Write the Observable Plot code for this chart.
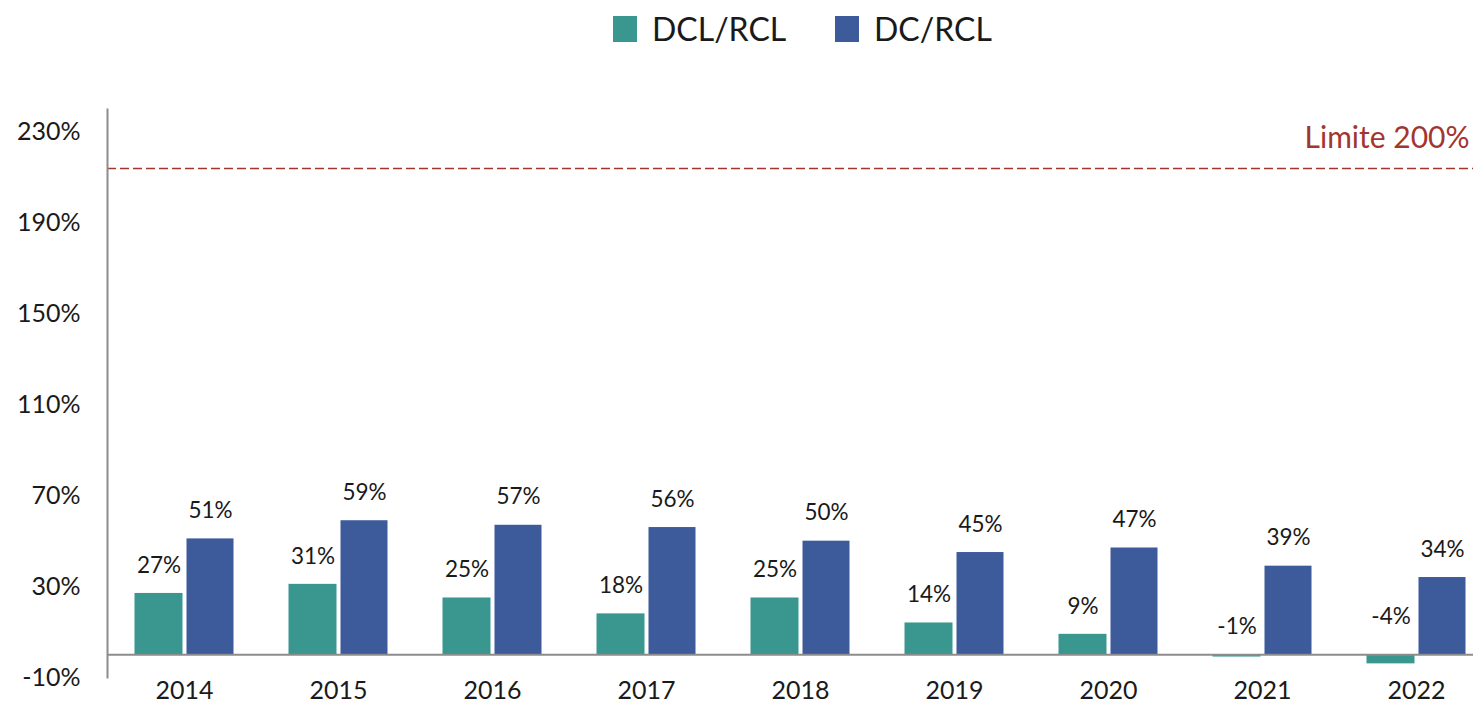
<!DOCTYPE html>
<html>
<head>
<meta charset="utf-8">
<script src="https://cdn.jsdelivr.net/npm/d3@7"></script>
<script src="https://cdn.jsdelivr.net/npm/@observablehq/plot@0.6"></script>
<style>
  html, body { margin: 0; padding: 0; background: #ffffff; }
  body { width: 1473px; height: 703px; overflow: hidden; font-family: Lato, "Open Sans", sans-serif; }
  #legend { position: relative; height: 70px; }
  .item { position: absolute; top: 12px; display: flex; align-items: center; font-size: 32px; color: #1a1a1a; line-height: 34px; }
  .sw { width: 24px; height: 26px; margin-right: 15px; }
</style>
</head>
<body>
<div id="legend"></div>
<div id="chart"></div>
<script>
const years = ["2014","2015","2016","2017","2018","2019","2020","2021","2022"];
const seriesNames = ["DCL/RCL", "DC/RCL"];
const dclRcl = [27, 31, 25, 18, 25, 14, 9, -1, -4];
const dcRcl  = [51, 59, 57, 56, 50, 45, 47, 39, 34];
const seriesColors = ["#3a978f", "#3d5a9b"];
const yTicks = [-10, 30, 70, 110, 150, 190, 230];
const limitValue = [214];
const limitLabel = "Limite 200%";

// legend
const legend = document.getElementById("legend");
const legendX = [613, 835];
seriesNames.forEach((name, i) => {
  const it = document.createElement("div");
  it.className = "item";
  it.style.left = legendX[i] + "px";
  it.innerHTML = `<span class="sw" style="background:${seriesColors[i]}"></span><span>${name}</span>`;
  legend.appendChild(it);
});

const teal = years.map((y, i) => ({year: y, value: dclRcl[i]}));
const blue = years.map((y, i) => ({year: y, value: dcRcl[i]}));
const fmt = d => d + "%";

const chart = Plot.plot({
  width: 1473,
  height: 633,
  marginLeft: 107,
  marginRight: -20,
  marginTop: 39,
  marginBottom: 26,
  style: { fontFamily: "Lato, 'Open Sans', sans-serif", background: "#ffffff", color: "#1a1a1a" },
  x: { domain: years, padding: 0, label: null },
  y: { domain: [-10, 240], label: null },
  marks: [
    Plot.ruleY(limitValue, { stroke: "#a3352f", strokeWidth: 1.5, strokeDasharray: "9,4" }),
    Plot.text(limitValue, { y: d => d, text: () => limitLabel, frameAnchor: "right", textAnchor: "end", dx: -24, dy: -30, fill: "#a3352f", fontSize: 30 }),
    Plot.barY(teal, { x: "year", y: "value", fill: seriesColors[0], insetLeft: 27.5, insetRight: 78.5 }),
    Plot.barY(blue, { x: "year", y: "value", fill: seriesColors[1], insetLeft: 79.5, insetRight: 27.5 }),
    Plot.text(teal.filter(d => d.value >= -2), { x: "year", y: d => Math.max(d.value, 0), text: d => fmt(d.value), dx: -25.5, dy: -28, fontSize: 22.5, fill: "#1a1a1a" }),
    Plot.text(teal.filter(d => d.value < -2), { x: "year", y: d => Math.max(d.value, 0), text: d => fmt(d.value), dx: -25.5, dy: -38, fontSize: 22.5, fill: "#1a1a1a" }),
    Plot.text(blue, { x: "year", y: d => Math.max(d.value, 0), text: d => fmt(d.value), dx: 26, dy: -28, fontSize: 22.5, fill: "#1a1a1a" }),
    Plot.ruleY([0], { stroke: "#8c8c8c", strokeWidth: 2 }),
    Plot.frame({ anchor: "left", stroke: "#8c8c8c", strokeWidth: 2 }),
    Plot.axisY({ ticks: yTicks, tickFormat: fmt, tickSize: 0, tickPadding: 27, fontSize: 25, label: null }),
    Plot.axisX({ tickSize: 0, tickPadding: 4, fontSize: 25, label: null })
  ]
});
document.getElementById("chart").appendChild(chart);
</script>
</body>
</html>
